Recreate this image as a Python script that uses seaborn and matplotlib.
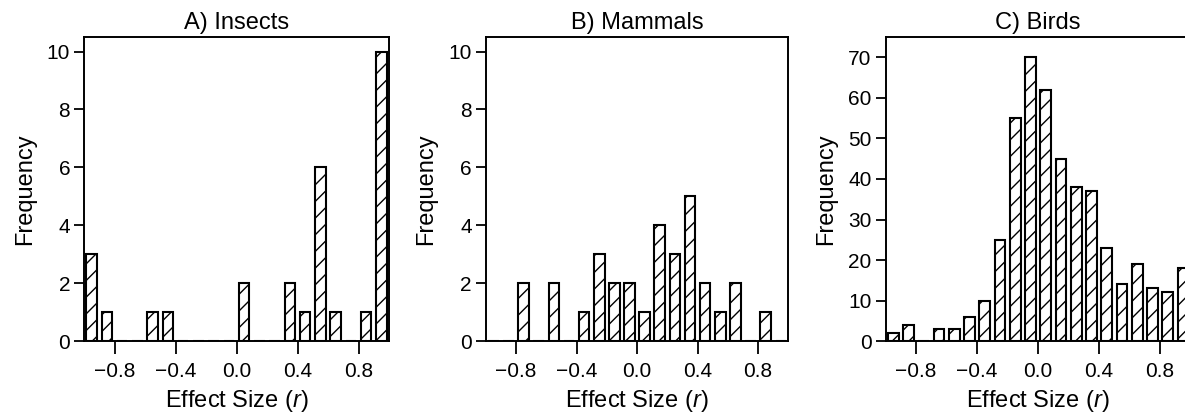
import numpy as np
import pandas as pd
import seaborn as sns
import matplotlib
matplotlib.use("Agg")
import matplotlib.pyplot as plt

# bin centres of the effect size histograms (bin width 0.1)
bin_centers = [-0.95, -0.85, -0.75, -0.65, -0.55, -0.45, -0.35, -0.25, -0.15, -0.05,
               0.05, 0.15, 0.25, 0.35, 0.45, 0.55, 0.65, 0.75, 0.85, 0.95]
bin_edges = [-1.0, -0.9, -0.8, -0.7, -0.6, -0.5, -0.4, -0.3, -0.2, -0.1, 0.0,
             0.1, 0.2, 0.3, 0.4, 0.5, 0.6, 0.7, 0.8, 0.9, 1.0]

insects = [3, 1, 0, 0, 1, 1, 0, 0, 0, 0, 2, 0, 0, 2, 1, 6, 1, 0, 1, 10]
mammals = [0, 0, 2, 0, 2, 0, 1, 3, 2, 2, 1, 4, 3, 5, 2, 1, 2, 0, 1, 0]
birds = [2, 4, 0, 3, 3, 6, 10, 25, 55, 70, 62, 45, 38, 37, 23, 14, 19, 13, 12, 18]

titles = ["A) Insects", "B) Mammals", "C) Birds"]
x_ticks = [-0.8, -0.4, 0.0, 0.4, 0.8]
y_ticks = [[0, 2, 4, 6, 8, 10], [0, 2, 4, 6, 8, 10], [0, 10, 20, 30, 40, 50, 60, 70]]
y_limits = [10.5, 10.5, 75]

sns.set_style("ticks")
plt.rcParams["font.family"] = ["Liberation Sans", "DejaVu Sans"]
plt.rcParams["mathtext.fontset"] = "custom"
plt.rcParams["mathtext.rm"] = "Liberation Sans"
plt.rcParams["mathtext.it"] = "Liberation Sans:italic"
plt.rcParams["hatch.linewidth"] = 1.0
plt.rcParams["text.color"] = "black"
plt.rcParams["axes.labelcolor"] = "black"
plt.rcParams["xtick.color"] = "black"
plt.rcParams["ytick.color"] = "black"

fig = plt.figure(figsize=(11.85, 4.17), dpi=100)
lefts = [0.0709, 0.4099, 0.7473]
widths = [0.2574, 0.2554, 0.2574]

series = [insects, mammals, birds]
for i in range(3):
    ax = fig.add_axes([lefts[i], 0.182, widths[i], 0.729])
    df = pd.DataFrame({"r": bin_centers, "n": series[i]})
    sns.histplot(data=df, x="r", weights="n", bins=bin_edges, shrink=0.7,
                 color="white", edgecolor="black", linewidth=1.5, alpha=1,
                 hatch="//", ax=ax)
    ax.set_xlim(-1.0, 1.0)
    ax.set_ylim(0, y_limits[i])
    ax.set_xticks(x_ticks)
    ax.set_xticklabels(["\u22120.8", "\u22120.4", "0.0", "0.4", "0.8"])
    ax.set_yticks(y_ticks[i])
    ax.tick_params(axis="both", labelsize=15, width=1.3, direction="out",
                   colors="black")
    ax.tick_params(axis="x", length=9, pad=6)
    ax.tick_params(axis="y", length=7, pad=3)
    for s in ax.spines.values():
        s.set_visible(True)
        s.set_linewidth(1.4)
        s.set_color("black")
    ax.set_title(titles[i], fontsize=17, pad=6, color="black")
    ax.set_xlabel("Effect Size ($r$)", fontsize=17, labelpad=5, color="black")
    ax.set_ylabel("Frequency", fontsize=17, labelpad=8, color="black")

fig.savefig("out.png", dpi=100)
